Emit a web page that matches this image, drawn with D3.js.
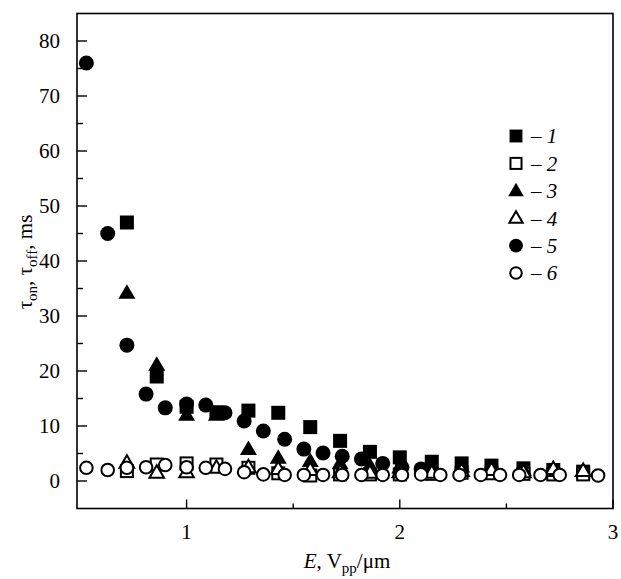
<!DOCTYPE html>
<html>
<head>
<meta charset="utf-8">
<script src="https://cdn.jsdelivr.net/npm/d3@7"></script>
<style>
  html, body { margin: 0; padding: 0; background: #fff; }
  svg { display: block; }
  text { font-family: "Liberation Serif", "Times New Roman", serif; fill: #000; }
</style>
</head>
<body>
<div id="chart"></div>
<script>
// Switching times vs. field strength, six measured series
const xStep1 = [0.72, 0.86, 1.0, 1.14, 1.29, 1.43, 1.58, 1.72, 1.86, 2.0, 2.15, 2.29, 2.43, 2.58, 2.72, 2.86];
const xStep2 = [0.53, 0.63, 0.72, 0.81, 0.90, 1.0, 1.09, 1.18, 1.27, 1.36, 1.46, 1.55, 1.64, 1.73, 1.82, 1.92, 2.01, 2.10, 2.19, 2.28, 2.38, 2.47, 2.56, 2.66, 2.75, 2.93];

const series1 = [47, 19, 13.5, 12.5, 12.8, 12.4, 9.8, 7.3, 5.3, 4.3, 3.5, 3.2, 2.8, 2.3, 2.0, 1.7];
const series2 = [1.8, 3.0, 3.2, 3.0, 2.4, 1.4, 1.0, 1.2, 1.2, 1.2, 1.3, 1.5, 1.4, 1.3, 1.2, 1.2];
const series3 = [34.2, 21.1, 12, 12, 5.8, 4.2, 3.6, 3.2, 2.8, 2.4, 2.2, 2.6, 2.4, 2.0, 1.8, 1.8];
const series4 = [3.3, 1.5, 1.6, 2.4, 2.5, 2.2, 2.0, 1.6, 1.5, 1.6, 1.5, 1.8, 2.0, 1.6, 2.2, 1.8];
const series5 = [76, 45, 24.7, 15.8, 13.3, 14, 13.8, 12.4, 10.9, 9.1, 7.6, 5.8, 5.1, 4.5, 4.0, 3.2, 2.5, 2.2];
const series6 = [2.4, 2.0, 2.4, 2.5, 2.9, 2.5, 2.4, 2.2, 1.6, 1.2, 1.1, 1.1, 1.1, 1.1, 1.1, 1.1, 1.1, 1.2, 1.1, 1.1, 1.1, 1.1, 1.1, 1.1, 1.1, 1.0];

const seriesLabels = ["1", "2", "3", "4", "5", "6"];
const xTicksMajor = [1, 2, 3];
const xTicksMinor = [1.5, 2.5];
const yTicksMajor = [0, 10, 20, 30, 40, 50, 60, 70, 80];
const yTicksMinor = [5, 15, 25, 35, 45, 55, 65, 75];

const W = 621, H = 579;
const svg = d3.select("#chart").append("svg").attr("width", W).attr("height", H);

const x = d3.scaleLinear().domain([0.486, 3.0]).range([77, 613]);
const y = d3.scaleLinear().domain([-5, 85]).range([508.5, 13.5]);

// marker definitions: shape + filled/open
const shapes = [
  { type: "square", filled: true },
  { type: "square", filled: false },
  { type: "triangle", filled: true },
  { type: "triangle", filled: false },
  { type: "circle", filled: true },
  { type: "circle", filled: false }
];

const seriesData = [
  xStep1.map((v, i) => [v, series1[i]]),
  xStep1.map((v, i) => [v, series2[i]]),
  xStep1.map((v, i) => [v, series3[i]]),
  xStep1.map((v, i) => [v, series4[i]]),
  series5.map((v, i) => [xStep2[i], v]),
  xStep2.map((v, i) => [v, series6[i]])
];

function drawMarker(g, shape, cx, cy, s) {
  const filled = shape.filled;
  const sw = filled ? 0 : 2;
  const fill = filled ? "#000" : "#fff";
  if (shape.type === "circle") {
    const r = filled ? 7.5 * s : 6.3 * s;
    g.append("circle").attr("cx", cx).attr("cy", cy).attr("r", r)
      .attr("fill", fill).attr("stroke", "#000").attr("stroke-width", sw);
  } else if (shape.type === "square") {
    const a = filled ? 14 * s : 12 * s;
    g.append("rect").attr("x", cx - a / 2).attr("y", cy - a / 2)
      .attr("width", a).attr("height", a)
      .attr("fill", fill).attr("stroke", "#000").attr("stroke-width", sw);
  } else {
    const w = filled ? 17 * s : 14.5 * s;
    const h = filled ? 14.5 * s : 12.5 * s;
    const pts = [[cx, cy - h * 0.6], [cx + w / 2, cy + h * 0.4], [cx - w / 2, cy + h * 0.4]];
    g.append("polygon").attr("points", pts.map(p => p.join(",")).join(" "))
      .attr("fill", fill).attr("stroke", "#000").attr("stroke-width", sw)
      .attr("stroke-linejoin", "miter");
  }
}

// data markers
const marks = svg.append("g");
seriesData.forEach((pts, k) => {
  const g = marks.append("g");
  pts.forEach(([xv, yv]) => drawMarker(g, shapes[k], x(xv), y(yv), 1));
});

// frame
svg.append("rect").attr("x", 77).attr("y", 13.5)
  .attr("width", x.range()[1] - 77).attr("height", 508.5 - 13.5)
  .attr("fill", "none").attr("stroke", "#000").attr("stroke-width", 1.6);

// y axis (ticks inward)
const yAxis = svg.append("g").attr("transform", `translate(${x.range()[0]},0)`);
yAxis.selectAll("line.maj").data(yTicksMajor).join("line")
  .attr("x1", 0).attr("x2", 10).attr("y1", d => y(d)).attr("y2", d => y(d))
  .attr("stroke", "#000").attr("stroke-width", 1.4);
yAxis.selectAll("line.min").data(yTicksMinor).join("line").attr("class", "min")
  .attr("x1", 0).attr("x2", 6).attr("y1", d => y(d)).attr("y2", d => y(d))
  .attr("stroke", "#000").attr("stroke-width", 1.4);
yAxis.selectAll("text").data(yTicksMajor).join("text")
  .attr("x", -17).attr("y", d => y(d)).attr("dy", "0.35em")
  .attr("text-anchor", "end").attr("font-size", 21).text(d => d);

// x axis (ticks inward)
const xAxis = svg.append("g").attr("transform", `translate(0,${y.range()[0]})`);
xAxis.selectAll("line.maj").data(xTicksMajor).join("line")
  .attr("x1", d => x(d)).attr("x2", d => x(d)).attr("y1", 0).attr("y2", -9)
  .attr("stroke", "#000").attr("stroke-width", 1.4);
xAxis.selectAll("line.min").data(xTicksMinor).join("line").attr("class", "min")
  .attr("x1", d => x(d)).attr("x2", d => x(d)).attr("y1", 0).attr("y2", -5)
  .attr("stroke", "#000").attr("stroke-width", 1.4);
xAxis.selectAll("text").data(xTicksMajor).join("text")
  .attr("x", d => x(d)).attr("y", 30)
  .attr("text-anchor", "middle").attr("font-size", 21).text(d => d);

// axis titles
const xt = svg.append("text").attr("x", 347).attr("y", 568)
  .attr("text-anchor", "middle").attr("font-size", 21);
xt.append("tspan").attr("font-style", "italic").text("E");
xt.append("tspan").text(", V");
xt.append("tspan").attr("font-size", 15).attr("dy", 5).text("pp");
xt.append("tspan").attr("dy", -5).text("/μm");

const yt = svg.append("text").attr("transform", "translate(32,262) rotate(-90)")
  .attr("text-anchor", "middle").attr("font-size", 21);
yt.append("tspan").text("τ");
yt.append("tspan").attr("font-size", 15).attr("dy", 5).text("on");
yt.append("tspan").attr("dy", -5).text(", τ");
yt.append("tspan").attr("font-size", 15).attr("dy", 5).text("off");
yt.append("tspan").attr("dy", -5).text(", ms");

// legend
const legend = svg.append("g");
seriesLabels.forEach((lab, k) => {
  const cy = 136 + k * 27.4;
  drawMarker(legend, shapes[k], 516, cy, 0.92);
  const t = legend.append("text").attr("x", 531).attr("y", cy).attr("dy", "0.35em")
    .attr("font-size", 21);
  t.append("tspan").text("– ");
  t.append("tspan").attr("font-style", "italic").text(lab);
});
</script>
</body>
</html>
